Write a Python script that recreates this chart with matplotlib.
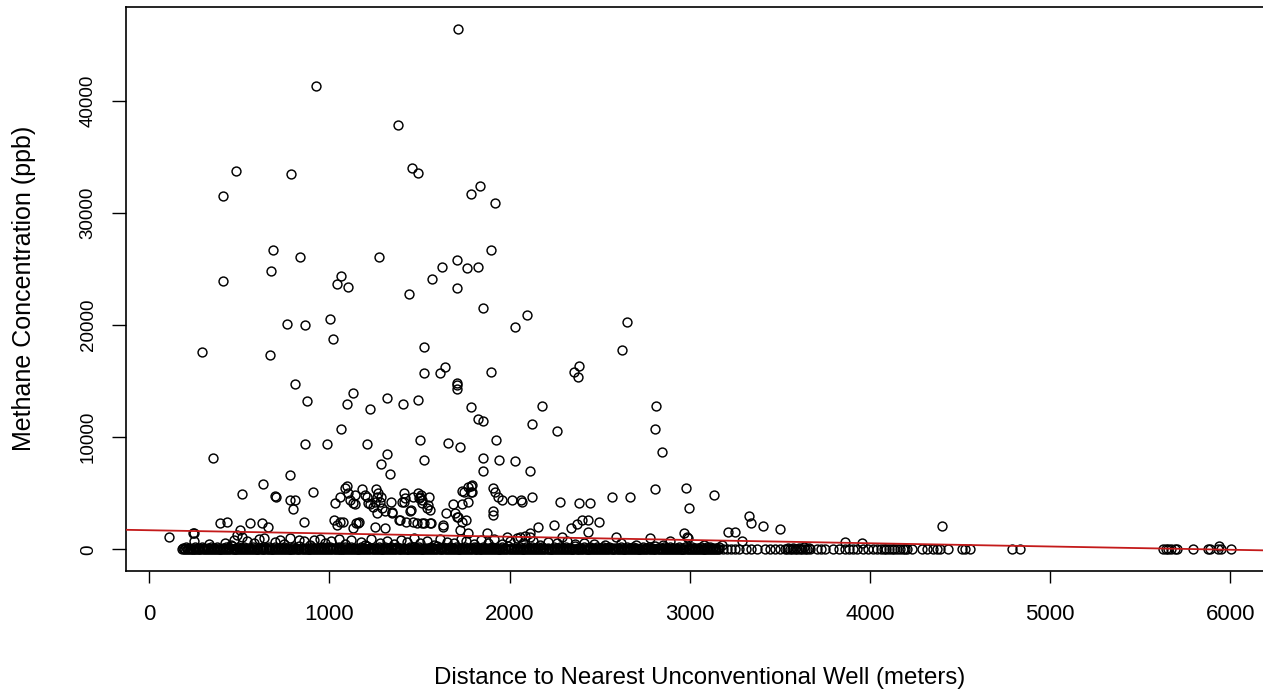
import matplotlib
matplotlib.use("Agg")
import matplotlib.pyplot as plt
from matplotlib import font_manager

# ---------------- data ----------------
# distance to nearest unconventional well (m) / methane concentration (ppb)
outlier_x = [1715, 925, 1382, 479, 786, 1458, 1493, 411, 1835, 1783, 1920, 685, 838, 1276, 1898,
             675, 1062, 1043, 1104, 411, 1441, 1569, 1623, 1706, 1765, 1826, 1706,
             1853, 2094, 2031, 764, 866, 1003, 1021, 291, 668, 1526, 1526, 1613, 1641, 1707, 1710,
             1707, 1896, 2178, 2126, 807, 873, 1132, 1095, 1226, 1321, 1406, 1493, 1783, 1826, 1853,
             1064, 352, 866, 986, 1208, 1321, 1286, 1337, 1500, 1526, 1656, 1724, 1922, 1853, 1941,
             1853, 2031, 2113, 781, 633, 908,
             2649, 2625, 2385, 2357, 2377, 2264, 2814, 2805, 2847, 2805, 2977,
             1095, 1086, 1182, 1258, 1734, 1783, 1783, 1909, 1918, 1770, 1789, 1789, 1746]
outlier_y = [46390, 41340, 37860, 33730, 33460, 34030, 33580, 31530, 32370, 31680, 30850, 26710, 26040, 26040, 26710,
             24790, 24370, 23680, 23420, 23950, 22740, 24100, 25200, 25770, 25080, 25200, 23270,
             21490, 20920, 19820, 20090, 19970, 20510, 18730, 17620, 17350, 18080, 15690, 15690, 16230, 14800, 14650,
             14270, 15840, 12780, 11140, 14740, 13220, 13900, 12920, 12510, 13460, 12920, 13340, 12660, 11590, 11470,
             10730, 8110, 9360, 9360, 9360, 8520, 7580, 6740, 9770, 7990, 9510, 9100, 9770, 8110, 7990,
             7010, 7840, 7010, 6600, 5800, 5080,
             20240, 17770, 16370, 15840, 15340, 10580, 12780, 10730, 8650, 5350, 5490,
             5640, 5440, 5350, 5350, 5230, 5640, 5080, 5440, 5140, 5580, 5730, 5140, 5140]

mid_x = [514, 695, 702, 781, 807, 799, 857, 1058, 1104, 1031, 1142, 1114, 1142, 1206, 1271, 1225, 1280, 1290,
         1243, 1308, 1341, 1262, 1345, 1413, 1447, 1413, 1465, 1493, 1502, 1512, 1554, 1548, 1558, 1647, 1687,
         1734, 1771, 1706, 1734, 1937, 1909, 1909, 2015, 2061, 2122, 2159,
         1132, 1215, 1252, 1197, 1265, 1284, 1401, 1419, 1506, 1497, 1515, 1543, 1349, 1386, 1451, 1423, 1487,
         1524, 1562, 1696, 1715, 1756, 1632, 1956, 1025, 1058, 1077, 1043, 1145, 1164,
         2070, 2281, 2385, 2446, 2566, 2668, 2993, 3132, 3328, 3337, 3406, 3502, 4401, 2248, 2338, 2372, 2400,
         2436, 2497, 2434, 2590, 2967, 3210, 3252, 1983, 2057, 2085, 2113, 2982, 2289,
         392, 429, 559, 624, 661, 244, 503, 1160, 1252, 1308, 1391, 1465, 1512, 1558, 1632, 1724, 1771, 1872,
         2113, 1132, 111, 246, 487, 514]
mid_y = [4960, 4720, 4660, 4390, 4390, 3570, 2460, 4690, 4990, 4160, 4840, 4390, 4040, 4690, 4990, 4040, 4240, 3660,
         3800, 3450, 4240, 3210, 3210, 4990, 3450, 4240, 4690, 4990, 4690, 4390, 4690, 3950, 3500, 3210, 4040,
         4040, 4240, 2910, 2460, 4690, 3450, 3060, 4390, 4390, 4690, 2020,
         4100, 4100, 4240, 4840, 4690, 4640, 4240, 4550, 4840, 4550, 4100, 3660, 3300, 2610, 3500, 2460, 2320,
         2320, 2320, 3210, 2910, 2610, 2170, 4390, 2610, 2460, 2460, 2170, 2320, 2460,
         4190, 4240, 4130, 4130, 4660, 4660, 3710, 4820, 3000, 2320, 2050, 1780, 2050, 2190, 1900, 2260, 2610,
         2610, 2460, 1520, 1100, 1430, 1520, 1520, 1070, 1120, 1190, 1070, 1120, 1120,
         2370, 2460, 2370, 2370, 2020, 1420, 1720, 2370, 2020, 1870, 2610, 2460, 2370, 2310, 2020, 1720, 1420, 1420,
         1420, 1870, 1070, 1420, 1280, 1120]

low_x = [246, 468, 635, 727, 782, 829, 912, 2779, 2988, 3291, 3862, 3957, 2890, 5935,
         330, 420, 455, 540, 580, 610, 700, 745, 860, 890, 950, 975, 1010, 1050, 1085, 1120, 1175, 1195, 1230,
         1280, 1320, 1360, 1395, 1430, 1470, 1505, 1540, 1580, 1615, 1650, 1690, 1730, 1760, 1800, 1840, 1880,
         1915, 1960, 2000, 2040, 2075, 2130, 2170, 2210, 2260, 2320, 2360, 2410, 2470, 2530, 2620, 2700, 2850,
         3080, 3180]
low_y = [770, 830, 980, 830, 980, 830, 830, 980, 980, 770, 620, 540, 770, 290,
         450, 600, 380, 700, 520, 900, 640, 480, 760, 420, 880, 560, 700, 950, 500, 820, 640, 380, 900,
         560, 740, 460, 850, 620, 980, 540, 760, 420, 880, 650, 520, 940, 700, 460, 820, 600,
         880, 500, 760, 980, 560, 700, 420, 640, 520, 760, 430, 600, 480, 380, 520, 420, 350,
         420, 380]

# trace-level samples (tens to a few hundred ppb) that thicken the bottom band
trace_x = [187, 204, 221, 240, 255, 272, 290, 306, 323, 341, 357, 374, 392, 408, 425, 443, 459, 476, 494, 510,
           527, 545, 561, 578, 596, 612, 629, 647, 663, 680, 698, 714, 731, 749, 765, 782, 800, 816, 833, 851,
           867, 884, 902, 918, 935, 953, 969, 986, 1004, 1020, 1037, 1055, 1071, 1088, 1106, 1122, 1139, 1157,
           1173, 1190, 1208, 1224, 1241, 1259, 1275, 1292, 1310, 1326, 1343, 1361, 1377, 1394, 1412, 1428, 1445,
           1463, 1479, 1496, 1514, 1530, 1547, 1565, 1581, 1598, 1616, 1632, 1649, 1667, 1683, 1700, 1718, 1734,
           1751, 1769, 1785, 1802, 1820, 1836, 1853, 1871, 1887, 1904, 1922, 1938, 1955, 1973, 1989, 2006, 2024,
           2040, 2057, 2075, 2091, 2108, 2126, 2142, 2159, 2177, 2193, 2210, 2228, 2244, 2261, 2279, 2295, 2312,
           2330, 2346, 2363, 2381, 2397, 2414, 2432, 2448, 2465, 2483, 2499, 2516, 2534, 2550, 2567, 2585, 2601,
           2618, 2636, 2652, 2669, 2687, 2703, 2720, 2738, 2754, 2771, 2789, 2805, 2822, 2840, 2856, 2873, 2891,
           2907, 2924, 2942, 2958, 2975, 2993, 3009, 3026, 3044, 3060, 3077, 3095, 3111, 3128, 3146, 3160,
           3545, 3575, 3603, 3631, 3660]
trace_y = [90, 210, 140, 60, 180, 120, 240, 80, 160, 200, 100, 230, 70, 150, 190, 110, 250, 60, 170, 130,
           220, 90, 160, 200, 70, 140, 240, 110, 180, 60, 210, 130, 90, 230, 150, 70, 190, 120, 250, 100,
           160, 60, 220, 140, 80, 200, 110, 240, 170, 90, 130, 210, 60, 180, 150, 230, 100, 70,
           190, 140, 250, 80, 160, 120, 220, 60, 200, 110, 170, 90, 240, 130, 150, 70, 210,
           180, 100, 230, 60, 160, 140, 200, 90, 250, 120, 170, 80, 220, 110, 190, 60, 150,
           240, 130, 90, 210, 170, 70, 200, 120, 160, 230, 100, 60, 180, 140, 250, 90, 150,
           110, 220, 70, 190, 130, 240, 80, 170, 200, 100, 160, 60, 210, 140, 180, 90, 230,
           120, 70, 250, 150, 110, 200, 60, 170, 130, 220, 90, 190, 140, 240, 80, 160,
           100, 210, 70, 180, 120, 230, 150, 60, 200, 110, 170, 90, 250, 130, 140, 190,
           80, 220, 160, 100, 240, 60, 180, 120, 210, 150, 90, 230, 70, 170, 200, 130,
           110, 190, 140, 80, 160, 210, 120]

# samples at 0 ppb (the dense band along the bottom)
zero_x = [183, 191, 200, 208, 217, 226, 233, 242, 251, 259, 268, 276, 284, 293, 302, 310, 318, 327, 335, 344,
          352, 361, 369, 377, 386, 395, 403, 411, 420, 428, 437, 445, 453, 462, 471, 479, 487, 496, 504, 513,
          521, 529, 538, 547, 555, 563, 572, 580, 589, 597, 605, 614, 623, 631, 639, 648, 656, 665, 673, 681,
          690, 699, 707, 715, 724, 732, 741, 749, 757, 766, 775, 783, 791, 800, 808, 817, 825, 833, 842, 851,
          859, 867, 876, 884, 893, 901, 909, 918, 927, 935, 943, 952, 960, 969, 977, 985, 994, 1003, 1011, 1019,
          1028, 1036, 1045, 1053, 1061, 1070, 1079, 1087, 1095, 1104, 1112, 1121, 1129, 1137, 1146, 1155, 1163,
          1171, 1180, 1188, 1197, 1205, 1213, 1222, 1231, 1239, 1247, 1256, 1264, 1273, 1281, 1289, 1298, 1307,
          1315, 1323, 1332, 1340, 1349, 1357, 1365, 1374, 1383, 1391, 1399, 1408, 1416, 1425, 1433, 1441, 1450,
          1459, 1467, 1475, 1484, 1492, 1501, 1509, 1517, 1526, 1535, 1543, 1551, 1560, 1568, 1577, 1585, 1593,
          1602, 1611, 1619, 1627, 1636, 1644, 1653, 1661, 1669, 1678, 1687, 1695, 1703, 1712, 1720, 1729, 1737,
          1745, 1754, 1763, 1771, 1779, 1788, 1796, 1805, 1813, 1821, 1830, 1839, 1847, 1855, 1864, 1872, 1881,
          1889, 1897, 1906, 1915, 1923, 1931, 1940, 1948, 1957, 1965, 1973, 1982, 1991, 1999, 2007, 2016, 2024,
          2033, 2041, 2049, 2058, 2067, 2075, 2083, 2092, 2100, 2109, 2117, 2125, 2134, 2143, 2151, 2159, 2168,
          2176, 2185, 2193, 2201, 2210, 2219, 2227, 2235, 2244, 2252, 2261, 2269, 2277, 2286, 2295, 2303, 2311,
          2320, 2328, 2337, 2345, 2353, 2362, 2371, 2379, 2387, 2396, 2404, 2413, 2421, 2429, 2438, 2447, 2455,
          2463, 2472, 2480, 2489, 2497, 2505, 2514, 2523, 2531, 2539, 2548, 2556, 2565, 2573, 2581, 2590, 2599,
          2607, 2615, 2624, 2632, 2641, 2649, 2657, 2666, 2675, 2683, 2691, 2700, 2708, 2717, 2725, 2733, 2742,
          2751, 2759, 2767, 2776, 2784, 2793, 2801, 2809, 2818, 2827, 2835, 2843, 2852, 2860, 2869, 2877, 2885,
          2894, 2903, 2911, 2919, 2928, 2936, 2945, 2953, 2961, 2970, 2979, 2987, 2995, 3004, 3012, 3021, 3029,
          3037, 3046, 3055, 3063, 3071, 3080, 3088, 3097, 3105, 3113, 3122, 3131, 3139, 3147, 3156, 3164,
          3184, 3205, 3228, 3250, 3275, 3312, 3340, 3372, 3417, 3445, 3473, 3500, 3528, 3540, 3555, 3568, 3582,
          3596, 3610, 3624, 3638, 3652, 3667, 3704, 3730, 3750, 3795, 3830, 3862, 3885, 3905, 3930, 3960, 3990,
          4015, 4040, 4060, 4075, 4090, 4105, 4120, 4135, 4150, 4167, 4180, 4193, 4205, 4231, 4286, 4314, 4351,
          4370, 4388, 4434, 4508, 4527, 4555,
          4786, 4832, 5627, 5640, 5655, 5670, 5690, 5705, 5790, 5875, 5885, 5930, 5950, 6005]
zero_level = 0

# fitted regression line (abline)
fit_intercept = 1700
fit_slope = -0.29

x_ticks = [0, 1000, 2000, 3000, 4000, 5000, 6000]
y_ticks = [0, 10000, 20000, 30000, 40000]
x_label = "Distance to Nearest Unconventional Well (meters)"
y_label = "Methane Concentration (ppb)"

# ---------------- figure ----------------
W, H = 1263, 690
fig = plt.figure(figsize=(W / 100, H / 100), dpi=100)
ax = fig.add_axes([126 / W, 1 - 571 / H, (1273 - 126) / W, (571 - 6.7) / H])
ax.set_xlim(-129.3, 6236)
ax.set_ylim(-1935, 48382)

mk = dict(ls='none', marker='o', ms=6.4, mfc='none', mec='black', mew=1.05)
ax.plot(zero_x, [zero_level] * len(zero_x), **mk)
ax.plot(trace_x, trace_y, **mk)
ax.plot(low_x, low_y, **mk)
ax.plot(mid_x, mid_y, **mk)
ax.plot(outlier_x, outlier_y, **mk)

ax.axline((0, fit_intercept), slope=fit_slope, color='#c41a1a', lw=1.3, zorder=3)

for s in ax.spines.values():
    s.set_linewidth(1.2)
    s.set_color('black')

names = {f.name for f in font_manager.fontManager.ttflist}
narrow = 'Liberation Sans Narrow' in names

ax.set_xticks(x_ticks)
ax.set_yticks(y_ticks)
ax.set_xticklabels([str(v) for v in x_ticks], family='Liberation Sans', fontsize=16)
if narrow:
    ax.set_yticklabels([str(v) for v in y_ticks], family=['Liberation Sans Narrow', 'Liberation Sans'],
                       fontsize=14.5, rotation=90, va='center')
else:
    ax.set_yticklabels([str(v) for v in y_ticks], family='Liberation Sans',
                       fontsize=13.5, rotation=90, va='center')
ax.tick_params(axis='x', direction='out', length=8.6, width=1.0, pad=15.5)
ax.tick_params(axis='y', direction='out', length=10, width=1.0, pad=11)

ax.set_xlabel(x_label, family='Liberation Sans', fontsize=17.3)
ax.xaxis.set_label_coords(0.5, -0.171)
ax.set_ylabel(y_label, family='Liberation Sans', fontsize=18)
ax.yaxis.set_label_coords(-0.0785, 0.5)

fig.savefig("out.png", dpi=100, facecolor='white')
